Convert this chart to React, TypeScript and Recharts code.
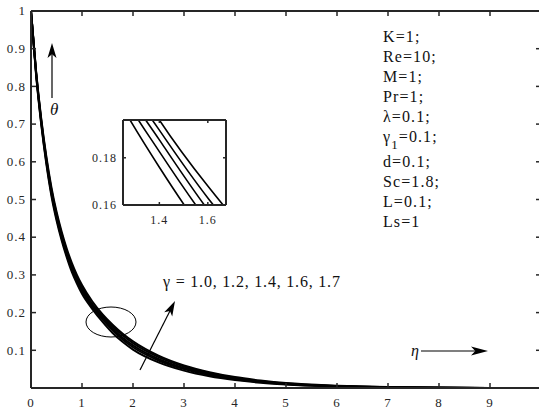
import { LineChart, Line, XAxis, YAxis } from "recharts";

// similarity variable
const eta = [0, 0.1, 0.2, 0.3, 0.4, 0.5, 0.6, 0.7, 0.8, 0.9, 1.0, 1.2, 1.4, 1.6, 1.8, 2.0, 2.5, 3.0, 3.5, 4.0, 4.5, 5.0, 6.0, 7.0, 8.0, 9.0, 10.0];

// temperature profiles theta(eta) for each gamma
const theta10 = [1, 0.83, 0.7, 0.595, 0.51, 0.445, 0.392, 0.347, 0.308, 0.277, 0.25, 0.21, 0.176, 0.146, 0.122, 0.102, 0.068, 0.046, 0.031, 0.021, 0.014, 0.009, 0.004, 0.0015, 0.0005, 0.0001, 0];
const theta12 = [1, 0.833, 0.704, 0.6, 0.516, 0.451, 0.398, 0.353, 0.315, 0.284, 0.257, 0.215, 0.1826, 0.153, 0.128, 0.108, 0.073, 0.05, 0.034, 0.023, 0.016, 0.01, 0.0045, 0.0018, 0.0006, 0.0002, 0];
const theta14 = [1, 0.836, 0.708, 0.605, 0.521, 0.456, 0.403, 0.358, 0.32, 0.289, 0.262, 0.219, 0.1876, 0.158, 0.133, 0.113, 0.077, 0.053, 0.037, 0.025, 0.017, 0.011, 0.005, 0.002, 0.0007, 0.0002, 0];
const theta16 = [1, 0.838, 0.712, 0.61, 0.527, 0.462, 0.409, 0.364, 0.326, 0.295, 0.268, 0.223, 0.1917, 0.163, 0.139, 0.119, 0.082, 0.057, 0.04, 0.027, 0.018, 0.012, 0.0055, 0.0022, 0.0008, 0.0002, 0];
const theta17 = [1, 0.84, 0.715, 0.615, 0.533, 0.468, 0.415, 0.37, 0.332, 0.3, 0.273, 0.23, 0.196, 0.168, 0.144, 0.124, 0.086, 0.06, 0.042, 0.029, 0.02, 0.013, 0.006, 0.0025, 0.001, 0.0003, 0];

const seriesKeys = ["g10", "g12", "g14", "g16", "g17"];

const xTicks = [0, 1, 2, 3, 4, 5, 6, 7, 8, 9];
const yTicks = [0.1, 0.2, 0.3, 0.4, 0.5, 0.6, 0.7, 0.8, 0.9, 1];
const insetXTicks = [1.4, 1.6];
const insetYTicks = [0.16, 0.18];

const params = ["K=1;", "Re=10;", "M=1;", "Pr=1;", "λ=0.1;", "γ_1=0.1;", "d=0.1;", "Sc=1.8;", "L=0.1;", "Ls=1"];
const paramBaselines = [42, 62, 82, 102, 122, 142, 167, 187, 207, 227];
const gammaLabel = "γ = 1.0, 1.2, 1.4, 1.6, 1.7";

const rows = eta.map((e, i) => ({
  eta: e,
  g10: theta10[i],
  g12: theta12[i],
  g14: theta14[i],
  g16: theta16[i],
  g17: theta17[i],
}));

const SERIF = "'Liberation Serif', 'Times New Roman', serif";
const AXIS = "#262626";
const serif = (fs: number, extra: any = {}) => ({ fontFamily: SERIF, fontSize: fs, ...extra });

const BottomTick = ({ x, y, payload, fs = 13, gap = 19, len = 5 }: any) => (
  <g>
    <line x1={x} y1={y} x2={x} y2={y - len} stroke={AXIS} strokeWidth={1.5} />
    <text x={x} y={y + gap} textAnchor="middle" style={serif(fs, { letterSpacing: 1 })} fill={AXIS}>
      {String(payload.value)}
    </text>
  </g>
);

const LeftTick = ({ x, y, payload, fs = 13, gap = 5, len = 5 }: any) => (
  <g>
    <line x1={x} y1={y} x2={x + len} y2={y} stroke={AXIS} strokeWidth={1.5} />
    <text x={x - gap} y={y + fs * 0.33} textAnchor="end" style={serif(fs, { letterSpacing: 1 })} fill={AXIS}>
      {String(payload.value)}
    </text>
  </g>
);

const TopTick = ({ x, y, len = 5 }: any) => (
  <line x1={x} y1={y} x2={x} y2={y + len} stroke={AXIS} strokeWidth={1.5} />
);

const RightTick = ({ x, y, len = 5 }: any) => (
  <line x1={x} y1={y} x2={x - len} y2={y} stroke={AXIS} strokeWidth={1.5} />
);

// MATLAB-like arrow with a notched head
const Arrow = ({ x1, y1, x2, y2, head = 15, half = 4.5 }: any) => {
  const dx = x2 - x1;
  const dy = y2 - y1;
  const L = Math.hypot(dx, dy);
  const ux = dx / L;
  const uy = dy / L;
  const bx = x2 - ux * head;
  const by = y2 - uy * head;
  const nx = x2 - ux * head * 0.75;
  const ny = y2 - uy * head * 0.75;
  const pts = [
    [x2, y2],
    [bx - uy * half, by + ux * half],
    [nx, ny],
    [bx + uy * half, by - ux * half],
  ]
    .map((p) => p.join(","))
    .join(" ");
  return (
    <g>
      <line x1={x1} y1={y1} x2={nx} y2={ny} stroke="#000" strokeWidth={1.2} />
      <polygon points={pts} fill="#000" />
    </g>
  );
};

const ParamLine = ({ text, y }: { text: string; y: number }) => {
  const st = serif(16, { letterSpacing: 1.1 });
  if (text.includes("_")) {
    const [base, rest] = text.split("_");
    return (
      <text x={383} y={y} style={st} fill="#111">
        <tspan>{base}</tspan>
        <tspan dy={7} style={{ fontSize: 13 }}>{rest[0]}</tspan>
        <tspan dy={-7}>{rest.slice(1)}</tspan>
      </text>
    );
  }
  return (
    <text x={383} y={y} style={st} fill="#111">
      {text}
    </text>
  );
};

// box axes (top / right) share the domains of the main axes; a hidden copy of one
// series is bound to them so they get drawn
const BoxAxes = ({ xDomain, yDomain, xt, yt, len }: any) => [
  <XAxis
    key="xt"
    xAxisId="top"
    orientation="top"
    dataKey="eta"
    type="number"
    domain={xDomain}
    allowDataOverflow
    ticks={xt}
    interval={0}
    height={1}
    tickSize={0}
    tickMargin={0}
    stroke={AXIS}
    strokeWidth={2}
    tick={(p: any) => <TopTick {...p} len={len} />}
  />,
  <YAxis
    key="yr"
    yAxisId="right"
    orientation="right"
    type="number"
    domain={yDomain}
    allowDataOverflow
    ticks={yt}
    interval={0}
    width={1}
    tickSize={0}
    tickMargin={0}
    stroke={AXIS}
    strokeWidth={2}
    tick={(p: any) => <RightTick {...p} len={len} />}
  />,
  <Line key="hidden" xAxisId="top" yAxisId="right" dataKey="g10" stroke="none" dot={false} activeDot={false} isAnimationActive={false} />,
];

export default function App() {
  return (
    <div style={{ position: "absolute", left: 0, top: 0, width: 539, height: 412, overflow: "hidden", background: "#fff" }}>
      <div style={{ position: "absolute", left: 0, top: 0 }}>
        <LineChart width={545} height={412} data={rows} margin={{ top: 10, right: 3, bottom: 0, left: 0 }}>
          <XAxis
            dataKey="eta"
            type="number"
            domain={[0, 10]}
            ticks={xTicks}
            interval={0}
            height={24}
            tickSize={0}
            tickMargin={0}
            stroke={AXIS}
            strokeWidth={2}
            tick={(p: any) => <BottomTick {...p} />}
          />
          <YAxis
            type="number"
            domain={[0, 1]}
            ticks={yTicks}
            interval={0}
            width={31}
            tickSize={0}
            tickMargin={0}
            stroke={AXIS}
            strokeWidth={2}
            tick={(p: any) => <LeftTick {...p} />}
          />
          {BoxAxes({ xDomain: [0, 10], yDomain: [0, 1], xt: xTicks, yt: yTicks, len: 5 })}
          {seriesKeys.map((k) => (
            <Line key={k} dataKey={k} type="monotone" stroke="#000" strokeWidth={2} dot={false} isAnimationActive={false} />
          ))}
        </LineChart>
      </div>

      {/* zoomed inset around eta = 1.25 .. 1.675 */}
      <div style={{ position: "absolute", left: 80, top: 119 }}>
        <LineChart width={147} height={113} data={rows} margin={{ top: 0, right: 0, bottom: 0, left: 0 }}>
          <XAxis
            dataKey="eta"
            type="number"
            domain={[1.25, 1.675]}
            allowDataOverflow
            ticks={insetXTicks}
            interval={0}
            height={27}
            tickSize={0}
            tickMargin={0}
            stroke={AXIS}
            strokeWidth={2}
            tick={(p: any) => <BottomTick {...p} fs={12} gap={19} len={3} />}
          />
          <YAxis
            type="number"
            domain={[0.16, 0.196]}
            allowDataOverflow
            ticks={insetYTicks}
            interval={0}
            width={43}
            tickSize={0}
            tickMargin={0}
            stroke={AXIS}
            strokeWidth={2}
            tick={(p: any) => <LeftTick {...p} fs={12} gap={6} len={3} />}
          />
          {BoxAxes({ xDomain: [1.25, 1.675], yDomain: [0.16, 0.196], xt: insetXTicks, yt: insetYTicks, len: 3 })}
          {seriesKeys.map((k) => (
            <Line key={k} dataKey={k} type="monotone" stroke="#000" strokeWidth={1.6} dot={false} isAnimationActive={false} />
          ))}
        </LineChart>
      </div>

      <svg width={539} height={412} style={{ position: "absolute", left: 0, top: 0, pointerEvents: "none" }}>
        <Arrow x1={52} y1={98} x2={52} y2={43} />
        <text x={50} y={115} style={serif(17, { fontStyle: "italic" })} fill="#111">θ</text>

        <ellipse cx={111} cy={322} rx={25} ry={15} fill="none" stroke="#000" strokeWidth={1} />
        <Arrow x1={140} y1={370} x2={175} y2={301} />
        <text x={163} y={287} style={serif(16, { letterSpacing: 0.8 })} fill="#111">{gammaLabel}</text>

        <text x={411} y={356} style={serif(16, { fontStyle: "italic" })} fill="#111">η</text>
        <Arrow x1={421} y1={351} x2={488} y2={351} head={17} />

        {params.map((t, i) => (
          <ParamLine key={t} text={t} y={paramBaselines[i]} />
        ))}
      </svg>
    </div>
  );
}
